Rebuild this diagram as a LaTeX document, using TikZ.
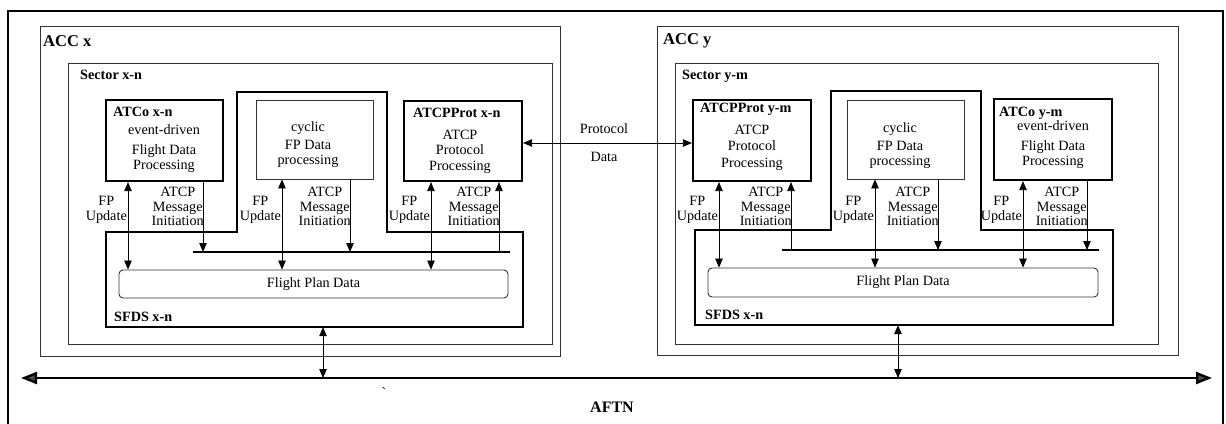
\documentclass[tikz,border=0pt]{standalone}
\usepackage{fontspec}
\setmainfont{Liberation Serif}
\usetikzlibrary{arrows.meta}
\newcommand\txtsize{\fontsize{14.2}{15}\selectfont}
\newcommand\bigsize{\fontsize{16.5}{18}\selectfont}
\begin{document}
\begin{tikzpicture}[x=1pt,y=-1pt,
  >={Triangle[length=9pt,width=7.5pt]},
  thin box/.style={draw=black!80, line width=0.9pt, inner sep=0pt},
  heavy box/.style={draw=black, line width=2.2pt, inner sep=0pt},
  ghost/.style={inner sep=0pt},
  data box/.style={draw=black!80, line width=0.9pt, rounded corners=4pt, inner sep=0pt},
  heavy line/.style={draw=black, line width=2.4pt},
  conn/.style={draw=black, line width=0.8pt},
  txt/.style={font=\txtsize, inner sep=0pt, align=center},
  title/.style={font=\txtsize\bfseries, inner sep=0pt, anchor=west},
  acc/.style={font=\bigsize\bfseries, inner sep=0pt, anchor=west},
  aftn tip/.tip={Triangle[length=16pt,width=12pt,fill=black!70]}
]
\useasboundingbox (0,0) rectangle (1226,423);
\clip (0,0) rectangle (1226,423);

% outer frame (open at the bottom edge of the page)
\draw[heavy line] (8,440) -- (8,11) -- (1223,11) -- (1223,440);

% ---------- ACC x ----------
\node[thin box, minimum width=520, minimum height=330] (accx) at (300,191) {};
\node[acc] (accxt) at (43,41) {ACC x};
\node[thin box, minimum width=484, minimum height=281] (secx) at (310,203.5) {};
\node[title] (secxt) at (80,75) {Sector x-n};

\node[heavy box, minimum width=117, minimum height=81] (atcox) at (164.5,140.5) {};
\node[title] (atcoxt) at (113,112) {ATCo x-n};
\node[txt] (atcoxb) at (164,149) {event-driven\\[5pt]Flight Data\\Processing};

\node[thin box, minimum width=117, minimum height=79] (cycx) at (314.5,139.5) {};
\node[txt] (cycxb) at (308,145) {cyclic\\[3pt]FP Data\\processing};

\node[heavy box, minimum width=118, minimum height=80] (protx) at (463,141) {};
\node[title] (protxt) at (413,113) {ATCPProt x-n};
\node[txt, font=\fontsize{14.2}{15.5}\selectfont] (protxb) at (460,151.5) {ATCP\\Protocol\\Processing};

% SFDS x-n outline, reaching up around the cyclic processing box
\draw[heavy line, line join=miter] (106,232) -- (237,232) -- (237,92) -- (387,92) -- (387,232)
  -- (523,232) -- (523,327) -- (106,327) -- cycle;
\node[ghost, minimum width=417, minimum height=95] (sfdsx) at (314.5,279.5) {};
\node[title] (sfdsxt) at (114,317) {SFDS x-n};
\node[data box, minimum width=389, minimum height=28] (fpdx) at (313.5,284) {};
\node[txt] (fpdxt) at (fpdx) {Flight Plan Data};

\coordinate (busxL) at (193,252);
\coordinate (busxR) at (510,252);
\draw[heavy line] (busxL) -- (busxR);

% ---------- ACC y ----------
\node[thin box, minimum width=521, minimum height=329] (accy) at (917.5,190.5) {};
\node[acc] (accyt) at (663,41) {ACC y};
\node[thin box, minimum width=483, minimum height=281] (secy) at (916.5,203.5) {};
\node[title] (secyt) at (682,76) {Sector y-m};

\node[heavy box, minimum width=118, minimum height=81] (proty) at (752,140.5) {};
\node[title] (protyt) at (700,109) {ATCPProt y-m};
\node[txt, font=\fontsize{14.2}{16.5}\selectfont] (protyb) at (752,147.5) {ATCP\\Protocol\\Processing};

\node[thin box, minimum width=117, minimum height=79] (cycy) at (905.5,139.5) {};
\node[txt] (cycyb) at (900,146) {cyclic\\[3pt]FP Data\\processing};

\node[heavy box, minimum width=118, minimum height=81] (atcoy) at (1053,139.5) {};
\node[title] (atcoyt) at (999,113) {ATCo y-m};
\node[txt] (atcoyb) at (1053,145) {event-driven\\[5pt]Flight Data\\Processing};

\draw[heavy line, line join=miter] (695,230) -- (831,230) -- (831,91) -- (981,91) -- (981,230)
  -- (1113,230) -- (1113,325) -- (695,325) -- cycle;
\node[ghost, minimum width=418, minimum height=95] (sfdsy) at (904,277.5) {};
\node[title] (sfdsyt) at (705,315) {SFDS x-n};
\node[data box, minimum width=390, minimum height=29] (fpdy) at (903,282.5) {};
\node[txt] (fpdyt) at (fpdy) {Flight Plan Data};

\coordinate (busyL) at (782,250);
\coordinate (busyR) at (1099,250);
\draw[heavy line] (busyL) -- (busyR);

% ---------- AFTN ----------
\coordinate (aftnL) at (21,378);
\coordinate (aftnR) at (1212,378);
\draw[heavy line, {aftn tip}-{aftn tip}] (aftnL) -- (aftnR);
\node[font=\fontsize{16}{18}\selectfont\bfseries, inner sep=0pt] (aftnt) at (612,407) {AFTN};
\node[txt] (tick) at (384,393) {\textasciigrave};

% ---------- connector columns ----------
\coordinate (c1) at (128,0);  \coordinate (c2) at (203,0);
\coordinate (c3) at (282,0);  \coordinate (c4) at (350,0);
\coordinate (c5) at (431,0);  \coordinate (c6) at (499,0);
\coordinate (c7) at (719,0);  \coordinate (c8) at (791,0);
\coordinate (c9) at (875,0);  \coordinate (c10) at (938,0);
\coordinate (c11) at (1023,0); \coordinate (c12) at (1087,0);
\coordinate (c13) at (323,0); \coordinate (c14) at (898,0);

% left sector connectors
\draw[conn,<->] (atcox.south -| c1) -- (fpdx.north -| c1);
\draw[conn,->] (atcox.south -| c2) -- (busxL -| c2);
\draw[conn,<->] (cycx.south -| c3) -- (fpdx.north -| c3);
\draw[conn,->] (cycx.south -| c4) -- (busxL -| c4);
\draw[conn,<->] (protx.south -| c5) -- (fpdx.north -| c5);
\draw[conn,->] (busxL -| c6) -- (protx.south -| c6);

% right sector connectors
\draw[conn,<->] (proty.south -| c7) -- (fpdy.north -| c7);
\draw[conn,->] (busyL -| c8) -- (proty.south -| c8);
\draw[conn,<->] (cycy.south -| c9) -- (fpdy.north -| c9);
\draw[conn,->] (cycy.south -| c10) -- (busyL -| c10);
\draw[conn,<->] (atcoy.south -| c11) -- (fpdy.north -| c11);
\draw[conn,->] (atcoy.south -| c12) -- (busyL -| c12);

% links to the AFTN
\draw[conn,<->] (sfdsx.south -| c13) -- (aftnL -| c13);
\draw[conn,<->] (sfdsy.south -| c14) -- (aftnL -| c14);

% protocol data exchange
\coordinate (pd) at (0,143);
\draw[conn,<->] (protx.east |- pd) -- (proty.west |- pd);
\node[txt] (pdt1) at (604,129) {Protocol};
\node[txt] (pdt2) at (604,157) {Data};

% connector labels
\foreach \c in {c1,c3,c5,c7,c9,c11}
  \node[txt, anchor=east, font=\fontsize{14.2}{15}\selectfont] at ([xshift=-1pt,yshift=-209.5pt]\c) {FP\\Update};
\foreach \c in {c2,c4,c6,c8,c10,c12}
  \node[txt, anchor=east, font=\fontsize{14.2}{14.5}\selectfont] at ([xshift=1pt,yshift=-206.5pt]\c) {ATCP\\Message\\Initiation};
\end{tikzpicture}
\end{document}
